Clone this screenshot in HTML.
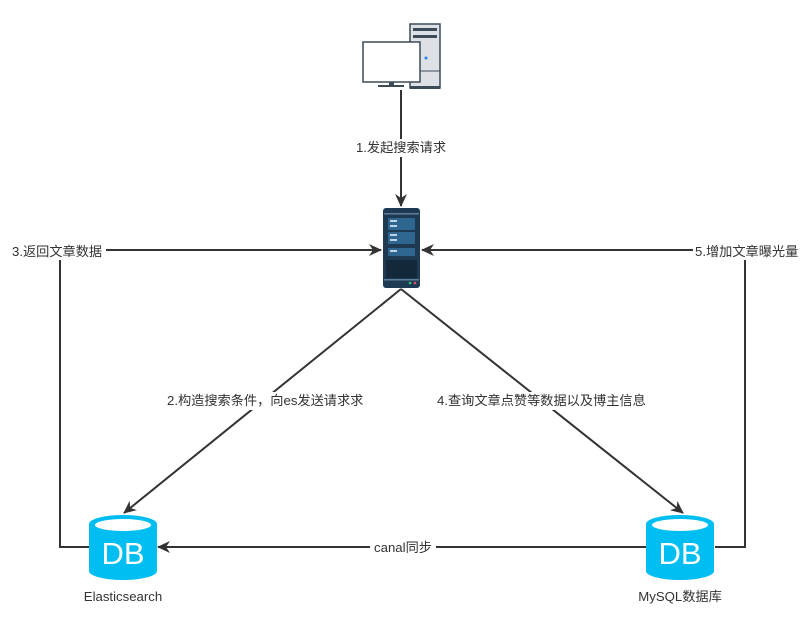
<!DOCTYPE html>
<html><head><meta charset="utf-8"><style>
body{margin:0;background:#fff;}
svg text{font-family:"Liberation Sans","Noto Sans CJK SC",sans-serif;font-size:13.2px;fill:#333;}
</style></head><body>
<svg width="810" height="619" viewBox="0 0 810 619" xmlns="http://www.w3.org/2000/svg">
<defs>
<marker id="a" markerWidth="14" markerHeight="14" refX="12" refY="6" orient="auto" markerUnits="userSpaceOnUse">
<path d="M0,0 L13,6 L0,12 L4,6 Z" fill="#333"/></marker>
<g id="db">
<path d="M0,9 A34,9 0 0 1 68,9 L68,56 A34,9 0 0 1 0,56 Z" fill="#00BEF2"/>
<ellipse cx="34" cy="10" rx="28" ry="6" fill="#fff"/>
<text x="34" y="49" text-anchor="middle" style="font-size:31px;fill:#fff">DB</text>
</g>
</defs>
<g stroke="#333" stroke-width="2" fill="none">
<line x1="401" y1="90" x2="401" y2="206" marker-end="url(#a)"/>
<polyline points="89,547 60,547 60,250 381,250" marker-end="url(#a)"/>
<polyline points="715,547 745,547 745,250 422,250" marker-end="url(#a)"/>
<line x1="401" y1="289" x2="124" y2="513" marker-end="url(#a)"/>
<line x1="401" y1="289" x2="683" y2="513" marker-end="url(#a)"/>
<line x1="646" y1="547" x2="158" y2="547" marker-end="url(#a)"/>
</g>
<!-- computer -->
<rect x="410" y="24" width="30" height="64" fill="#dde1e6" stroke="#3d4a57" stroke-width="1.5"/>
<rect x="413" y="28" width="24" height="3" fill="#3d4a57"/>
<rect x="413" y="35" width="24" height="3" fill="#3d4a57"/>
<line x1="410" y1="71" x2="440" y2="71" stroke="#3d4a57"/>
<rect x="410" y="86" width="30" height="3" fill="#3d4a57"/>
<circle cx="426" cy="58" r="1.5" fill="#2a7fff"/>
<rect x="363" y="42" width="57" height="40" fill="#fff" stroke="#3d4a57" stroke-width="1.5"/>
<rect x="389" y="82" width="5" height="4" fill="#3d4a57"/>
<rect x="378" y="85" width="26" height="2" fill="#3d4a57"/>
<!-- server -->
<rect x="383" y="208" width="37" height="80" rx="3" fill="#1e3a52"/>
<rect x="384" y="213" width="35" height="1.5" fill="#5d7d98"/>
<rect x="388" y="218" width="27" height="12" fill="#2e6690"/>
<rect x="388" y="232" width="27" height="12" fill="#2e6690"/>
<rect x="388" y="248" width="27" height="8" fill="#2e6690"/>
<g fill="#bcd4e6"><rect x="390" y="220" width="7" height="2"/><rect x="390" y="225" width="7" height="2"/><rect x="390" y="234" width="7" height="2"/><rect x="390" y="239" width="7" height="2"/><rect x="390" y="250" width="7" height="2"/></g>
<rect x="386" y="260" width="31" height="18" fill="#13293b"/>
<rect x="384" y="279" width="35" height="1.5" fill="#5d7d98"/>
<circle cx="410" cy="283" r="1.3" fill="#2ecc71"/><circle cx="415" cy="283" r="1.3" fill="#e74c6c"/>
<use href="#db" x="89" y="515"/>
<use href="#db" x="646" y="515"/>
<g>
<rect x="354" y="139" width="96" height="18" fill="#fff"/>
<text x="401" y="152" text-anchor="middle">1.发起搜索请求</text>
<rect x="10" y="242" width="96" height="18" fill="#fff"/>
<text x="12" y="256">3.返回文章数据</text>
<rect x="693" y="242" width="106" height="18" fill="#fff"/>
<text x="695" y="256">5.增加文章曝光量</text>
<rect x="165" y="392" width="198" height="18" fill="#fff"/>
<text x="167" y="405">2.构造搜索条件，向es发送请求求</text>
<rect x="435" y="392" width="209" height="18" fill="#fff"/>
<text x="437" y="405">4.查询文章点赞等数据以及博主信息</text>
<rect x="370" y="539" width="66" height="18" fill="#fff"/>
<text x="403" y="552" text-anchor="middle">canal同步</text>
<text x="123" y="601" text-anchor="middle">Elasticsearch</text>
<text x="680" y="601" text-anchor="middle">MySQL数据库</text>
</g>
</svg>
</body></html>
